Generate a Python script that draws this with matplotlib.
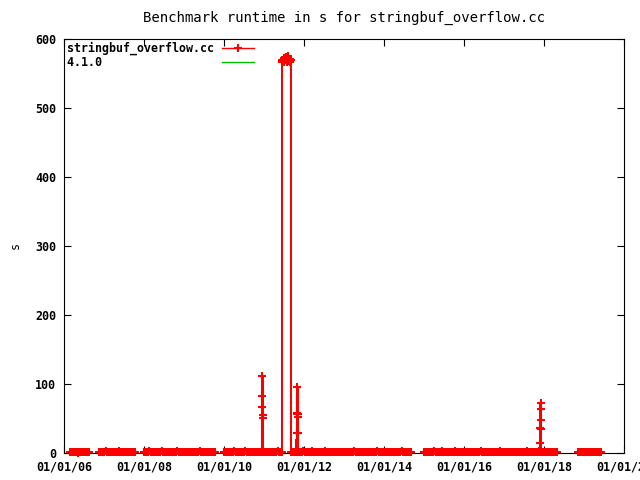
import numpy as np
import pandas as pd
import matplotlib
matplotlib.use('Agg')
import matplotlib.pyplot as plt
import matplotlib.dates as mdates

plt.rcParams['font.family'] = ['DejaVu Sans Mono']
plt.rcParams['font.weight'] = 'bold'
plt.rcParams['font.size'] = 8.4

# runtime in s, stretches of runs (first day, last day) and the values
seg_a_range = ('2006-03-01', '2006-08-20')
seg_a = ("1.1 0.8 1.4 0.9 1.6 1.2 0.7 2.1 1.0 1.3 0.9 1.8 1.1 0.8 1.5 1.2")
seg_b_range = ('2006-11-20', '2007-10-15')
seg_b = ("1.3 0.9 1.7 1.0 1.2 2.3 0.8 1.5 1.1 1.9 0.9 1.3 1.6 1.0 0.8 1.4 2.2 "
         "1.1 0.9 1.5 1.2 1.8 0.8 1.3 1.0 2.0 1.1 0.9 1.6 1.2")
seg_c_range = ('2008-01-05', '2009-10-15')
seg_c = ("1.0 1.7 0.9 1.3 2.2 1.1 0.8 1.5 1.2 2.0 0.9 1.3 1.8 1.0 2.4 1.2 0.8 "
         "1.6 1.1 2.1 1.0 1.4 0.9 1.7 1.2 0.8 1.5 2.3 1.0 1.3 0.9 1.9 1.1 1.4 "
         "0.8 1.6 1.2 2.0 0.9 1.3 1.1 1.8 0.8 1.5 1.0 2.2 1.2 0.9 1.4 1.7 1.0 "
         "1.3 0.8 2.1 1.1 1.5 0.9 1.2 1.6")
seg_d1_range = ('2010-01-05', '2010-12-08')
seg_d1 = ("1.2 0.9 1.6 1.1 2.0 0.8 1.5 1.3 2.2 1.0 1.6 1.2 0.9 1.8 1.1 1.4 0.8 "
          "2.3 1.0 1.3 1.7 0.9 1.5 1.2 2.0 1.1 0.8 1.4 1.9 1.0 1.3")
spike1_dates = ['2010-12-14', '2010-12-16', '2010-12-17', '2010-12-18',
                '2010-12-19', '2010-12-20', '2010-12-22']
spike1 = [1.0, 83, 111, 67, 55, 51, 1.3]
seg_d2_range = ('2011-01-05', '2011-06-12')
seg_d2 = ("1.4 0.9 2.0 1.2 1.6 1.0 0.8 1.7 1.1 1.5 2.2 0.9 1.3 1.0")
high_range = ('2011-06-13', '2011-09-02')
high = ("566 570 568 573 567 571 569 574 566 572 570 575 568 571 567 569")
seg_e1_range = ('2011-09-03', '2011-10-24')
seg_e1 = ("1.3 0.9 1.8 1.1 1.4")
spike2_dates = ['2011-10-28', '2011-10-31', '2011-11-01', '2011-11-02',
                '2011-11-03', '2011-11-04', '2011-11-05', '2011-11-07']
spike2 = [29, 58, 57, 96, 56, 52, 29, 1.2]
seg_e2_range = ('2011-11-12', '2014-09-08')
seg_e2 = ("1.1 1.7 0.9 1.3 2.2 1.0 1.5 0.8 1.9 1.2 1.0 2.4 1.3 0.9 1.6 1.1 2.0 "
          "1.4 0.8 1.2 1.8 1.0 2.3 1.1 0.9 1.5 1.2 2.1 1.0 1.4 0.8 1.7 1.2 1.0 "
          "1.6 0.9 1.3 2.0 1.1 0.8 1.5 1.2 1.9 1.0 1.4 0.9 2.2 1.1 1.3 0.8 1.6 "
          "1.2 1.0 1.8 0.9 1.4 2.1 1.1 1.3 0.8 1.5 1.0 1.7 1.2 0.9 2.3 1.1 1.4 "
          "1.0 1.6 0.8 1.2 1.9 1.0 1.3 0.9 1.5 2.0 1.1 1.2 0.8 1.7 1.0 1.4 1.1 "
          "2.2 0.9 1.3 1.6 1.0 1.2 0.8 1.5 1.1")
seg_f1_range = ('2014-12-28', '2017-11-15')
seg_f1 = ("1.2 0.9 1.6 1.1 2.0 1.3 0.8 1.5 1.0 2.2 1.2 0.9 1.8 1.1 1.4 2.4 1.0 "
          "1.3 0.8 1.7 1.2 2.0 0.9 1.5 1.1 1.3 2.3 1.0 1.6 0.9 1.2 1.9 1.1 1.4 "
          "1.0 0.8 1.5 1.2 2.1 0.9 1.3 1.7 1.0 1.4 0.8 1.6 1.1 2.2 1.2 0.9 1.5 "
          "1.0 1.8 1.3 0.8 1.4 2.0 1.1 1.2 0.9 1.7 1.0 1.5 2.3 1.1 0.8 1.3 1.6 "
          "1.0 1.2 1.9 0.9 1.4 1.1 2.1 1.0 1.3 0.8 1.6 1.2 1.0 1.8 0.9 1.5 1.1 "
          "2.2 1.0 1.4 0.8 1.3 1.7 1.1 0.9 1.5 1.2 1.0")
spike3_dates = ['2017-11-20', '2017-11-24', '2017-11-28', '2017-11-30',
                '2017-12-01', '2017-12-02', '2017-12-04', '2017-12-07']
spike3 = [1.0, 14, 36, 48, 72, 64, 35, 1.1]
seg_f2_range = ('2017-12-15', '2018-05-01')
seg_f2 = ("1.3 0.9 1.8 1.1 1.5 1.0 2.0 1.2 0.8 1.6 1.1 1.4")
seg_g_range = ('2018-11-10', '2019-06-08')
seg_g = ("1.2 1.6 0.9 2.0 1.1 1.4 0.8 1.3 1.7 1.0 2.1 1.2 0.9 1.5 1.1 1.8 1.0 "
         "1.3 1.4")

# second series in the key (no visible points)
v410_dates = []
v410 = []

x_tick_dates = ['2006-01-01', '2008-01-01', '2010-01-01', '2012-01-01',
                '2014-01-01', '2016-01-01', '2018-01-01', '2020-01-01']
y_ticks = [0, 100, 200, 300, 400, 500, 600]


def stretch(rng, vals):
    vals = [float(v) for v in vals.split()]
    return list(pd.date_range(rng[0], rng[1], periods=len(vals))), vals


def explicit(dates, vals):
    return list(pd.to_datetime(dates)), list(vals)


# runs of connected points; a gap in the data breaks the line
runs = [
    [stretch(seg_a_range, seg_a)],
    [stretch(seg_b_range, seg_b)],
    [stretch(seg_c_range, seg_c)],
    [stretch(seg_d1_range, seg_d1), explicit(spike1_dates, spike1),
     stretch(seg_d2_range, seg_d2), stretch(high_range, high),
     stretch(seg_e1_range, seg_e1), explicit(spike2_dates, spike2),
     stretch(seg_e2_range, seg_e2)],
    [stretch(seg_f1_range, seg_f1), explicit(spike3_dates, spike3),
     stretch(seg_f2_range, seg_f2)],
    [stretch(seg_g_range, seg_g)],
]
xs, ys = [], []
for run in runs:
    for d, v in run:
        xs += d
        ys += v
    xs.append(xs[-1] + pd.Timedelta(days=1))
    ys.append(np.nan)

fig = plt.figure(figsize=(6.4, 4.8), dpi=100)
ax = fig.add_axes([64/640, 1-453/480, 560/640, 414/480])

ax.plot(xs, ys, color='#ff0000', lw=1.0, marker='+', ms=6, mew=1.5,
        clip_on=False, antialiased=False, zorder=3,
        label='stringbuf_overflow.cc')
ax.plot(pd.to_datetime(v410_dates), v410, color='#00c000', lw=1.0,
        antialiased=False, label='4.1.0'.ljust(21))

ax.set_xlim(pd.Timestamp('2006-01-01'), pd.Timestamp('2020-01-01'))
ax.set_ylim(0, 600)
ax.set_xticks(pd.to_datetime(x_tick_dates))
ax.xaxis.set_major_formatter(mdates.DateFormatter('%m/%d/%y'))
ax.set_yticks(y_ticks)
ax.tick_params(direction='in', top=True, right=True, length=5, width=0.8,
               pad=5.5)
for s in ax.spines.values():
    s.set_linewidth(0.8)

ax.set_ylabel('s', labelpad=10)
ax.set_title('Benchmark runtime in s for stringbuf_overflow.cc', pad=12)

ax.legend(loc='upper left', bbox_to_anchor=(0, 1), borderaxespad=0,
          borderpad=0.25, frameon=False, markerfirst=False,
          handlelength=2.75, handletextpad=0.7, labelspacing=0.1)

fig.savefig('out.png', dpi=100)
